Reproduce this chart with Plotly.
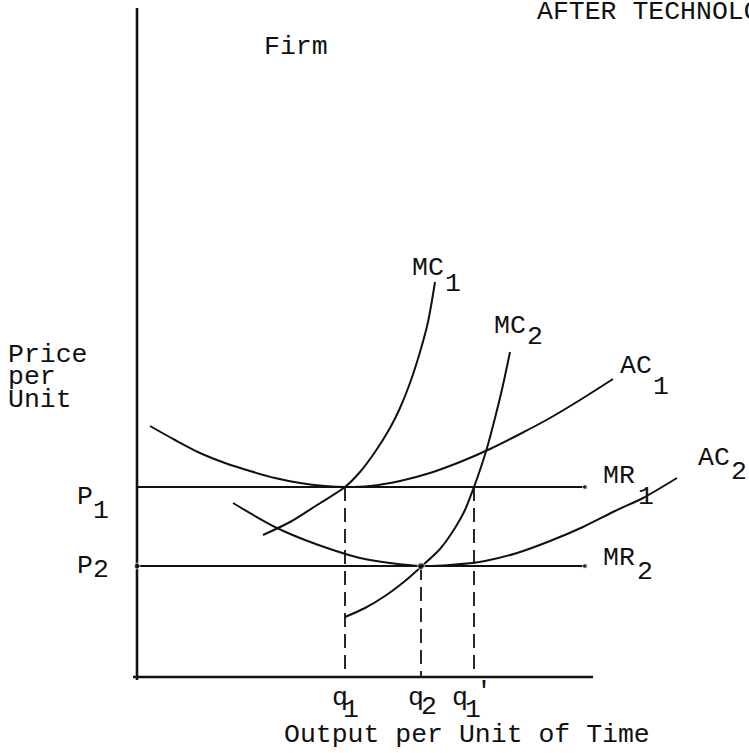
import plotly.graph_objects as go

# ---- data (economic units: output on x, price on y) ----
ac1_x = [1.3, 3.8, 6.3, 8.8, 11.3, 13.8, 16.3, 18.8, 20.8, 23.3, 26.3, 29.3, 32.3, 35.3, 38.3, 41.3, 44.3, 47.6]
ac1_y = [25.1, 23.7, 22.4, 21.4, 20.6, 19.9, 19.4, 19.1, 19.0, 19.1, 19.6, 20.4, 21.5, 22.8, 24.3, 25.9, 27.7, 29.8]

ac2_x = [9.6, 11.8, 14.0, 16.8, 19.6, 22.3, 25.3, 28.5, 31.3, 34.8, 38.0, 41.3, 44.6, 47.8, 50.6, 54.0]
ac2_y = [17.4, 16.1, 14.9, 13.7, 12.7, 11.9, 11.4, 11.1, 11.2, 11.6, 12.4, 13.6, 15.0, 16.6, 17.9, 19.9]

mc1_x = [12.6, 15.3, 18.0, 20.8, 22.3, 23.8, 25.3, 26.3, 27.3, 28.3, 29.1, 29.8]
mc1_y = [14.2, 15.5, 17.2, 19.0, 20.5, 22.5, 24.9, 26.9, 29.4, 32.5, 35.5, 39.5]

mc2_x = [20.8, 22.8, 24.8, 26.8, 28.5, 30.3, 31.8, 32.8, 33.7, 34.3, 35.0, 35.8, 36.6, 37.3]
mc2_y = [6.0, 6.9, 8.1, 9.6, 11.1, 12.8, 14.9, 16.7, 19.0, 20.7, 22.9, 25.9, 29.2, 32.5]

p1, p2 = 19.0, 11.1
q1, q2, q1p = 20.8, 28.4, 33.7
mr_end = 44.8
x_axis_end = 45.6
y_axis_top = 66.9

FONT = "Liberation Mono, Courier New, monospace"
INK = "#111111"

fig = go.Figure()

def line(x, y, width=2.0, dash=None, shape="spline", smoothing=0.8):
    fig.add_trace(go.Scatter(
        x=x, y=y, mode="lines", hoverinfo="skip", showlegend=False,
        line=dict(color=INK, width=width, dash=dash, shape=shape, smoothing=smoothing),
    ))

# axes
line([0, 0], [y_axis_top, -0.3], width=2.6, shape="linear")
line([-0.4, x_axis_end], [0, 0], width=2.6, shape="linear")

# MR lines
line([0, mr_end], [p1, p1], width=2.2, shape="linear")
line([0, mr_end], [p2, p2], width=2.2, shape="linear")

# cost curves
line(ac1_x, ac1_y)
line(ac2_x, ac2_y)
line(mc1_x, mc1_y)
line(mc2_x, mc2_y)

# dashed drop lines
for qx, py in [(q1, p1), (q2, p2), (q1p, p1)]:
    line([qx, qx], [py, 0], width=1.8, dash="14px,7px", shape="linear")

# small dots at line ends / equilibrium
fig.add_trace(go.Scatter(
    x=[mr_end, mr_end, 0, q2], y=[p1, p2, p2, p2], mode="markers",
    hoverinfo="skip", showlegend=False,
    marker=dict(color=INK, size=[5, 5, 6, 7]),
))

W, H = 749, 753

def lab(text, px, py, size=26.5):
    fig.add_annotation(
        text=text, x=px / W, y=1 - py / H, xref="paper", yref="paper",
        xanchor="left", yanchor="middle", showarrow=False,
        font=dict(family=FONT, size=size, color=INK),
    )

lab("AFTER TECHNOLOGY", 535, 12)
lab("Firm", 262, 47)
lab("Price", 6, 355)
lab("per", 6, 377)
lab("Unit", 6, 400)

lab("MC", 410, 268); lab("1", 443, 284)
lab("MC", 492, 326); lab("2", 525, 337)
lab("AC", 618, 366); lab("1", 651, 387)
lab("AC", 696, 458); lab("2", 729, 472)
lab("MR", 601, 476); lab("1", 636, 497)
lab("MR", 601, 558); lab("2", 635, 572)

lab("P", 75, 497); lab("1", 91, 511)
lab("P", 75, 566); lab("2", 91, 570)

lab("q", 330, 698); lab("1", 341, 710)
lab("q", 406, 698); lab("2", 419, 707)
lab("q", 450, 698); lab("1", 463, 710); lab("'", 474, 692)

lab("Output per Unit of Time", 282, 735)

fig.update_layout(
    width=W, height=H, margin=dict(l=0, r=0, t=0, b=0),
    paper_bgcolor="white", plot_bgcolor="white",
    xaxis=dict(range=[-13.7, 61.2], visible=False, fixedrange=True),
    yaxis=dict(range=[-7.6, 67.7], visible=False, fixedrange=True),
)

fig.write_html(
    "out.html",
    config={"displayModeBar": False, "staticPlot": True},
    post_script="document.body.style.margin='0';document.body.style.overflow='hidden';",
)
